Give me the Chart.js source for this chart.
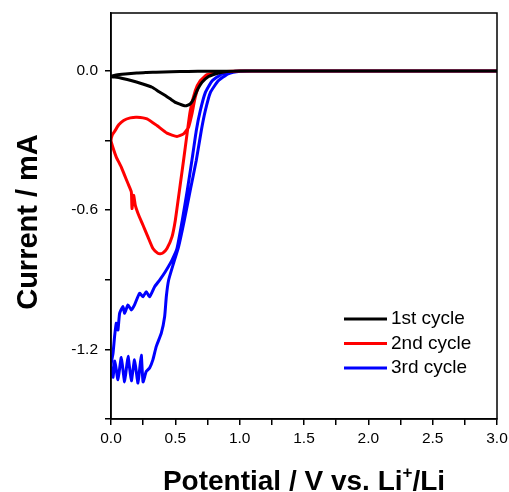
<!DOCTYPE html>
<html>
<head>
<meta charset="utf-8">
<title>CV cycles</title>
<script src="https://cdn.jsdelivr.net/npm/chart.js@4"></script>
<style>
  html, body { margin: 0; padding: 0; background: #fff; }
  canvas { display: block; }
</style>
</head>
<body>
<canvas id="cv" width="509" height="492"></canvas>
<script>
// ── Data ──────────────────────────────────────
const seriesLabels = ['1st cycle', '2nd cycle', '3rd cycle'];
const seriesColors = ['#000000', '#ff0000', '#0000ff'];

// 1st cycle: cathodic 3.0 -> 0.0, then anodic back to 3.0
const cycle1V = [3.0, 2.0, 1.0, 0.9, 0.862, 0.81, 0.758, 0.707, 0.668, 0.642, 0.616, 0.585, 0.564, 0.53, 0.5, 0.46, 0.422, 0.37, 0.319, 0.24, 0.163, 0.09, 0.03, 0.0,
                 0.01, 0.04, 0.11, 0.2, 0.27, 0.35, 0.47, 0.6, 0.75, 0.9, 1.2, 2.0, 3.0];
const cycle1I = [0, 0, 0, -0.002, -0.006, -0.013, -0.024, -0.049, -0.085, -0.12, -0.142, -0.150, -0.149, -0.142, -0.135, -0.120, -0.106, -0.088, -0.070, -0.055, -0.042, -0.032, -0.026, -0.025,
                 -0.021, -0.017, -0.013, -0.009, -0.006, -0.005, -0.003, -0.002, -0.001, -0.001, 0, 0, 0];

// 2nd cycle
const cycle2V = [3.0, 2.0, 1.0, 0.901, 0.824, 0.746, 0.694, 0.655, 0.616, 0.591, 0.564, 0.538, 0.525, 0.5, 0.474, 0.435, 0.404, 0.383, 0.365, 0.326, 0.287, 0.249, 0.210, 0.189, 0.176, 0.163, 0.158, 0.132, 0.106, 0.080, 0.041, 0.015, 0.0,
                 0.01, 0.033, 0.06, 0.098, 0.15, 0.202, 0.28, 0.357, 0.435, 0.513, 0.564, 0.603, 0.629, 0.655, 0.694, 0.746, 0.81, 0.9, 1.0, 2.0, 3.0];
const cycle2I = [0, 0, 0, -0.002, -0.006, -0.016, -0.042, -0.085, -0.171, -0.271, -0.385, -0.490, -0.543, -0.643, -0.715, -0.765, -0.784, -0.788, -0.786, -0.765, -0.715, -0.665, -0.614, -0.579, -0.536, -0.593, -0.521, -0.485, -0.450, -0.414, -0.371, -0.33, -0.30,
                 -0.275, -0.256, -0.232, -0.213, -0.202, -0.199, -0.206, -0.235, -0.268, -0.282, -0.271, -0.242, -0.185, -0.113, -0.049, -0.020, -0.006, -0.002, 0, 0, 0];

// 3rd cycle
const cycle3V = [3.0, 2.0, 1.1, 1.005, 0.911, 0.834, 0.772, 0.733, 0.702, 0.663, 0.616, 0.570, 0.525, 0.486, 0.448, 0.430, 0.417, 0.391, 0.352, 0.326, 0.300, 0.274, 0.249, 0.235, 0.210, 0.183, 0.158, 0.132, 0.106, 0.080, 0.054, 0.030, 0.016, 0.0,
                 0.016, 0.028, 0.041, 0.054, 0.067, 0.093, 0.106, 0.132, 0.158, 0.183, 0.222, 0.249, 0.274, 0.300, 0.339, 0.378, 0.422, 0.474, 0.513, 0.554, 0.593, 0.629, 0.663, 0.694, 0.733, 0.787, 0.865, 0.966, 1.04, 2.0, 3.0];
const cycle3I = [0, 0, 0, -0.001, -0.012, -0.042, -0.093, -0.171, -0.256, -0.385, -0.514, -0.643, -0.758, -0.829, -0.901, -0.972, -1.058, -1.130, -1.187, -1.244, -1.280, -1.295, -1.340, -1.225, -1.345, -1.245, -1.335, -1.230, -1.340, -1.235, -1.330, -1.250, -1.320, -1.27,
                 -1.216, -1.144, -1.087, -1.116, -1.044, -1.015, -1.044, -1.008, -1.030, -1.008, -0.958, -0.973, -0.951, -0.973, -0.930, -0.901, -0.865, -0.815, -0.765, -0.643, -0.514, -0.385, -0.256, -0.171, -0.093, -0.042, -0.012, -0.001, 0, 0, 0];

// Axis ticks
const xTickValues = [0, 0.25, 0.5, 0.75, 1.0, 1.25, 1.5, 1.75, 2.0, 2.25, 2.5, 2.75, 3.0];
const xTickLabels = ['0.0', '', '0.5', '', '1.0', '', '1.5', '', '2.0', '', '2.5', '', '3.0'];
const yTickValues = [-1.5, -1.2, -0.9, -0.6, -0.3, 0.0];
const yTickLabels = ['', '-1.2', '', '-0.6', '', '0.0'];

const FONT = "'Liberation Sans', Arial, Helvetica, sans-serif";

const toPoints = (xs, ys) => xs.map((x, i) => ({ x, y: ys[i] }));
const cycles = [[cycle1V, cycle1I], [cycle2V, cycle2I], [cycle3V, cycle3I]];

// ── Plugins ───────────────────────────────────
const frame = {
  id: 'frame',
  afterDraw(chart) {
    const { ctx, chartArea: a } = chart;
    ctx.save();
    ctx.strokeStyle = '#000';
    ctx.lineWidth = 1.5;
    ctx.strokeRect(a.left, a.top, a.right - a.left, a.bottom - a.top);
    ctx.restore();
  }
};

const insideLegend = {
  id: 'insideLegend',
  afterDatasetsDraw(chart) {
    const { ctx } = chart;
    const rows = [319, 343.5, 368];
    ctx.save();
    ctx.font = `19px ${FONT}`;
    ctx.textBaseline = 'middle';
    chart.data.datasets.forEach((ds, i) => {
      ctx.strokeStyle = ds.borderColor;
      ctx.lineWidth = 3;
      ctx.beginPath();
      ctx.moveTo(344, rows[i]);
      ctx.lineTo(387, rows[i]);
      ctx.stroke();
      ctx.fillStyle = '#000';
      ctx.fillText(ds.label, 391, rows[i]);
    });
    ctx.restore();
  }
};

// axis titles, x title needs a superscript "+"
const axisTitles = {
  id: 'axisTitles',
  afterDraw(chart) {
    const { ctx, chartArea: a } = chart;
    ctx.save();
    ctx.fillStyle = '#000';
    ctx.textBaseline = 'alphabetic';

    // y title
    ctx.font = `bold 29px ${FONT}`;
    ctx.translate(37, 222);
    ctx.rotate(-Math.PI / 2);
    ctx.textAlign = 'center';
    ctx.fillText('Current / mA', 0, 0);
    ctx.setTransform(1, 0, 0, 1, 0, 0);

    // x title
    const big = `bold 28px ${FONT}`, small = `bold 17px ${FONT}`;
    const p1 = 'Potential / V vs. Li', sup = '+', p2 = '/Li';
    ctx.font = big;  const w1 = ctx.measureText(p1).width, w3 = ctx.measureText(p2).width;
    ctx.font = small; const w2 = ctx.measureText(sup).width;
    let x = (a.left + a.right) / 2 - (w1 + w2 + w3) / 2;
    const base = 490;
    ctx.textAlign = 'left';
    ctx.font = big;   ctx.fillText(p1, x, base); x += w1;
    ctx.font = small; ctx.fillText(sup, x, base - 12); x += w2;
    ctx.font = big;   ctx.fillText(p2, x, base);
    ctx.restore();
  }
};

// ── Chart ─────────────────────────────────────
new Chart(document.getElementById('cv'), {
  type: 'scatter',
  data: {
    datasets: cycles.map(([v, i], k) => ({
      label: seriesLabels[k],
      data: toPoints(v, i),
      showLine: true,
      borderColor: seriesColors[k],
      backgroundColor: seriesColors[k],
      borderWidth: 3,
      pointRadius: 0,
      tension: 0.15,
      borderJoinStyle: 'round'
    }))
  },
  options: {
    responsive: false,
    animation: false,
    layout: { padding: { left: 0, top: 13, right: 12, bottom: 0 } },
    plugins: { legend: { display: false }, tooltip: { enabled: false } },
    scales: {
      x: {
        type: 'linear', min: 0, max: 3,
        afterBuildTicks: s => { s.ticks = xTickValues.map(value => ({ value })); },
        afterFit: s => { s.height = 73; s.paddingLeft = 0; s.paddingRight = 0; },
        grid: { drawOnChartArea: false, drawTicks: true, tickLength: 6, color: '#000', lineWidth: 1.5 },
        border: { display: true, color: '#000', width: 1.5 },
        ticks: {
          autoSkip: false, maxRotation: 0, padding: 4, color: '#000',
          font: { family: FONT, size: 15.5 },
          callback: (val, idx) => xTickLabels[idx]
        }
      },
      y: {
        type: 'linear', min: -1.5, max: 0.25,
        afterBuildTicks: s => { s.ticks = yTickValues.map(value => ({ value })); },
        afterFit: s => { s.width = 111; s.paddingTop = 0; s.paddingBottom = 0; },
        grid: { drawOnChartArea: false, drawTicks: true, tickLength: 6, color: '#000', lineWidth: 1.5 },
        border: { display: true, color: '#000', width: 1.5 },
        ticks: {
          autoSkip: false, padding: 7, color: '#000',
          font: { family: FONT, size: 15.5 },
          callback: (val, idx) => yTickLabels[idx]
        }
      }
    }
  },
  plugins: [frame, insideLegend, axisTitles]
});
</script>
</body>
</html>
